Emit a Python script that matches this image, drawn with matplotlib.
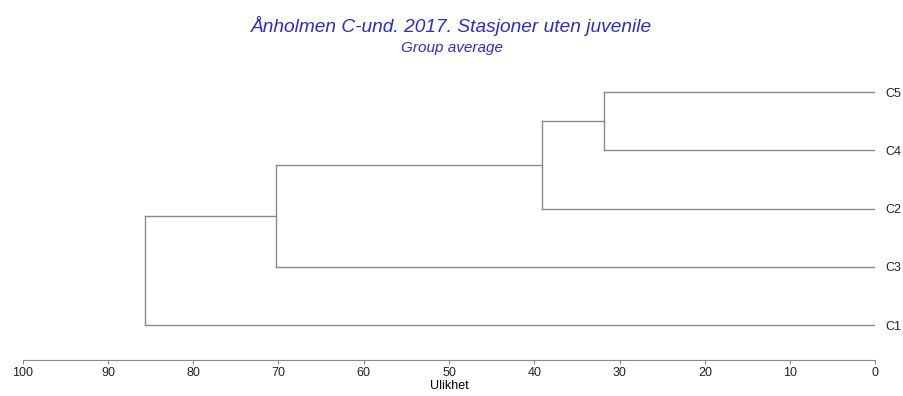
import matplotlib.pyplot as plt

# Leaves from top to bottom
stations = ['C5', 'C4', 'C2', 'C3', 'C1']
# Merges: (cluster a, cluster b, dissimilarity); new clusters get ids 5, 6, ...
merges = [(0, 1, 31.8), (5, 2, 39.1), (6, 3, 70.3), (7, 4, 85.7)]
xticks = [100, 90, 80, 70, 60, 50, 40, 30, 20, 10, 0]

line_col = '#8a8a8a'
blue = '#2b2bd6'

fig = plt.figure(figsize=(9.04, 3.96), dpi=100)
ax = fig.add_axes([0.0251, 0.0909, 0.9432, 0.706])

n = len(stations)
ypos = {i: float(n - 1 - i) for i in range(n)}
height = {i: 0.0 for i in range(n)}

for k, (a, b, h) in enumerate(merges):
    new = n + k
    for c in (a, b):
        ax.plot([height[c], h], [ypos[c], ypos[c]], color=line_col, lw=1)
    ax.plot([h, h], [ypos[a], ypos[b]], color=line_col, lw=1)
    ypos[new] = (ypos[a] + ypos[b]) / 2
    height[new] = h

ax.set_xlim(100, 0)
ax.set_ylim(-0.6, 4.2)

for s in ['top', 'left', 'right']:
    ax.spines[s].set_visible(False)
ax.spines['bottom'].set_color(line_col)
ax.set_xticks(xticks)
ax.set_xticklabels([str(t) for t in xticks], fontsize=9, color='#222222',
                   family='Liberation Sans')
ax.tick_params(axis='x', length=3, color=line_col, pad=2)
ax.set_xlabel('Ulikhet', fontsize=9, family='Liberation Sans', labelpad=1)

ax.yaxis.tick_right()
ax.set_yticks([ypos[i] for i in range(n)])
ax.set_yticklabels(stations, fontsize=9, family='Liberation Sans', color='#222222')
ax.tick_params(axis='y', length=0, pad=7)

fig.text(0.5, 0.935, 'Ånholmen C-und. 2017. Stasjoner uten juvenile',
         ha='center', va='center', fontsize=13.8, style='italic', color=blue,
         family='Liberation Sans')
fig.text(0.5, 0.879, 'Group average', ha='center', va='center', fontsize=11,
         style='italic', color=blue, family='Liberation Sans')

fig.savefig('out.png', dpi=100)
